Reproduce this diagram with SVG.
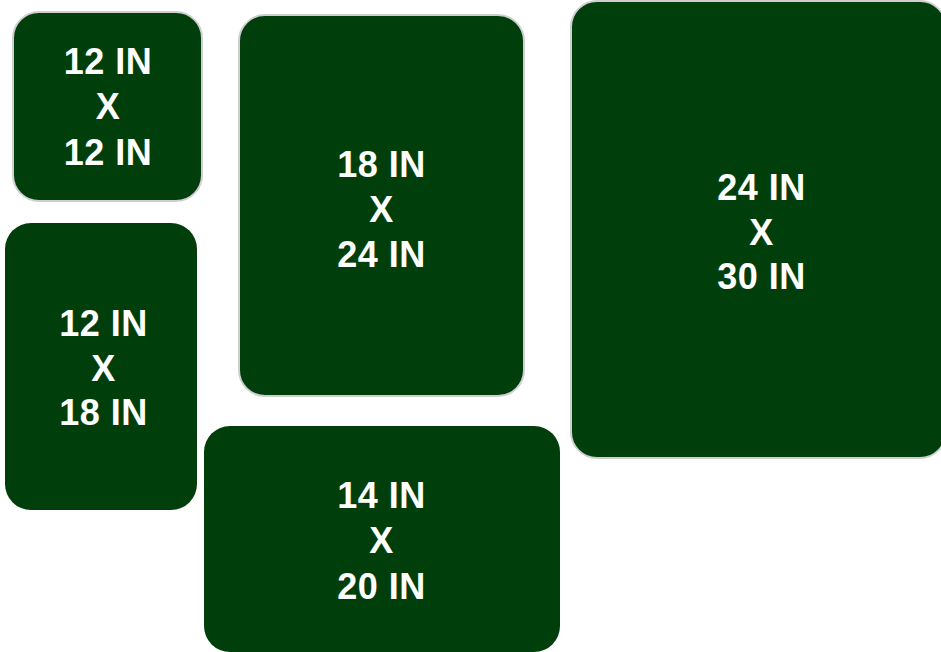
<svg xmlns="http://www.w3.org/2000/svg" width="941" height="652" viewBox="0 0 941 652">
<style>
.box{fill:#003f0b;}
.bd{stroke:#cfcfcf;stroke-width:2;}
.t{font-family:"Liberation Sans",Arial,sans-serif;font-weight:bold;font-size:36px;fill:#ffffff;text-anchor:middle;letter-spacing:0.5px;}
</style>
<rect width="941" height="652" fill="#ffffff"/>
<g id="n12x12">
<rect class="box bd" x="13" y="12" width="189" height="189" rx="26"/>
<text class="t" x="108" y="74">12 IN</text>
<text class="t" x="108" y="119">X</text>
<text class="t" x="108" y="165">12 IN</text>
</g>
<g id="n12x18">
<rect class="box" x="5" y="223" width="192" height="287" rx="26"/>
<text class="t" x="103.5" y="336">12 IN</text>
<text class="t" x="103.5" y="381">X</text>
<text class="t" x="103.5" y="425">18 IN</text>
</g>
<g id="n18x24">
<rect class="box bd" x="239" y="15" width="285" height="381" rx="26"/>
<text class="t" x="381.5" y="177">18 IN</text>
<text class="t" x="381.5" y="222">X</text>
<text class="t" x="381.5" y="267">24 IN</text>
</g>
<g id="n24x30">
<rect class="box bd" x="571" y="1" width="375" height="457" rx="26"/>
<text class="t" x="761.5" y="200">24 IN</text>
<text class="t" x="761.5" y="245">X</text>
<text class="t" x="761.5" y="289">30 IN</text>
</g>
<g id="n14x20">
<rect class="box" x="204" y="426" width="356" height="226" rx="26"/>
<text class="t" x="381.5" y="508">14 IN</text>
<text class="t" x="381.5" y="553">X</text>
<text class="t" x="381.5" y="599">20 IN</text>
</g>
<g id="connectors"/>
</svg>
